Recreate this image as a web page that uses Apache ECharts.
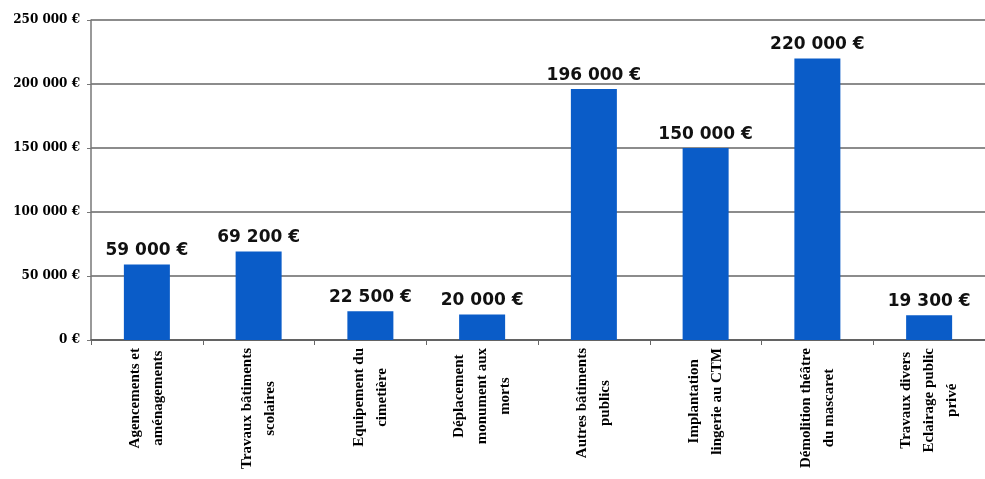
<!doctype html>
<html>
<head>
<meta charset="UTF-8">
<title>Investissements</title>
<script src="https://cdn.jsdelivr.net/npm/echarts@6/dist/echarts.min.js"></script>
<style>
	html, body { margin: 0; padding: 0; background: #fff; }
	#chart { width: 985px; height: 479px; }
</style>
</head>
<body>
<div id="chart"></div>
<script type="text/javascript">
	// postes de dépense
	var categories = [
		'Agencements et\naménagements',
		'Travaux bâtiments\nscolaires',
		'Equipement du\ncimetière',
		'Déplacement\nmonument aux\nmorts',
		'Autres bâtiments\npublics',
		'Implantation\nlingerie au CTM',
		'Démolition théâtre\ndu mascaret',
		'Travaux divers\nEclairage public\nprivé'
	];
	// montants en euros
	var amounts = [59000, 69200, 22500, 20000, 196000, 150000, 220000, 19300];

	function euro(v) {
		return String(v).replace(/\B(?=(\d{3})+(?!\d))/g, ' ') + ' €';
	}

	// chaque ligne centrée dans le bloc du libellé
	function centerLines(v) {
		return v.split('\n').map(function (l) { return '{c|' + l + '}'; }).join('\n');
	}

	var option = {
		animation: false,
		grid: {
			left: 91,
			right: 0,
			top: 20,
			bottom: 139
		},
		xAxis: {
			type: 'category',
			data: categories,
			axisLine: { lineStyle: { color: '#555', width: 1.5 } },
			axisTick: { show: true, alignWithLabel: false, length: 5, lineStyle: { color: '#666' } },
			axisLabel: {
				rotate: 90,
				interval: 0,
				margin: 8,
				formatter: centerLines,
				color: '#000',
				fontFamily: 'Liberation Serif',
				fontWeight: 'bold',
				fontSize: 15,
				lineHeight: 23,
				align: 'right',
				verticalAlign: 'middle',
				rich: {
					c: {
						align: 'center',
						color: '#000',
						fontFamily: 'Liberation Serif',
						fontWeight: 'bold',
						fontSize: 15,
						lineHeight: 23
					}
				}
			}
		},
		yAxis: {
			type: 'value',
			min: 0,
			max: 250000,
			interval: 50000,
			axisLine: { show: true, lineStyle: { color: '#777', width: 1.5 } },
			axisTick: { show: true, length: 4, lineStyle: { color: '#777' } },
			splitLine: { lineStyle: { color: '#666', width: 1.5 } },
			axisLabel: {
				formatter: euro,
				color: '#000',
				fontFamily: 'DejaVu Serif',
				fontWeight: 'bold',
				fontSize: 12,
				margin: 11
			}
		},
		series: [{
			type: 'bar',
			data: amounts,
			barWidth: 46,
			itemStyle: { color: '#0a5cc8' },
			label: {
				show: true,
				position: 'top',
				distance: 5,
				formatter: function (p) { return euro(p.value); },
				color: '#111',
				fontFamily: 'DejaVu Sans',
				fontWeight: 'bold',
				fontSize: 17
			}
		}]
	};

	var chart = echarts.init(document.getElementById('chart'));
	chart.setOption(option);
</script>
</body>
</html>
